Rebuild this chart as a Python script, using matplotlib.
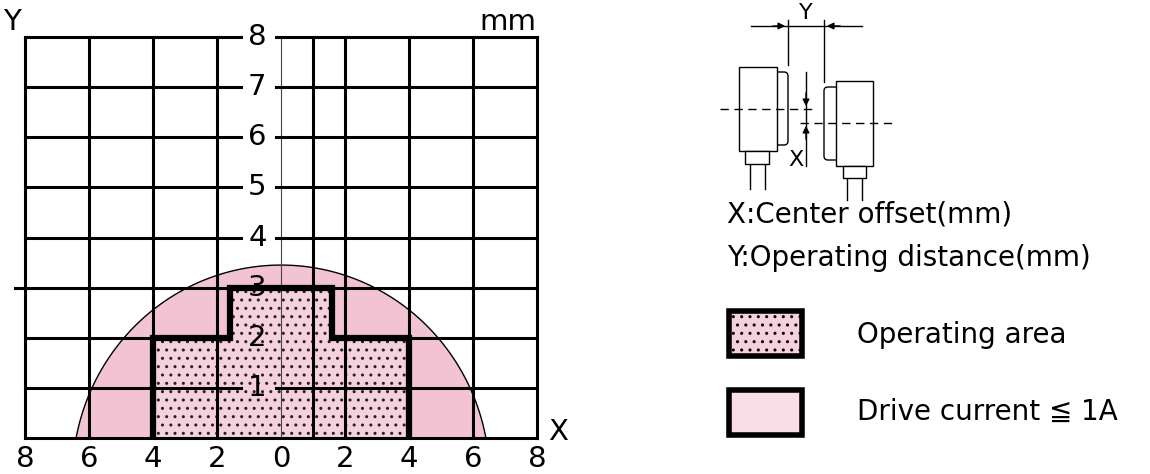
import matplotlib
matplotlib.use("Agg")
import matplotlib.pyplot as plt
from matplotlib.patches import Polygon, Ellipse, Rectangle, FancyBboxPatch
import numpy as np

x_ticks = [-8, -6, -4, -2, 0, 2, 4, 6, 8]
x_tick_labels = ["8", "6", "4", "2", "0", "2", "4", "6", "8"]
y_ticks = [1, 2, 3, 4, 5, 6, 7, 8]
grid_x = [-8, -6, -4, -2, 1, 2, 4, 6, 8]
op_x = [-4, -4, -1.6, -1.6, 1.6, 1.6, 4, 4]
op_y = [0, 2, 2, 3, 3, 2, 2, 0]
dome_center_y = -0.8
dome_half_width = 6.52
dome_half_height = 4.25

DOME = "#f2c3d3"
OPF = "#f5d0dd"
LIGHT = "#fbdde8"
FS = 21
TFS = 20
fam = ["DejaVu Sans", "Noto Sans CJK JP"]
plt.rcParams["hatch.linewidth"] = 1.0
plt.rcParams["hatch.color"] = "#222222"

fig = plt.figure(figsize=(11.5, 4.74), dpi=100)
ax = fig.add_axes([25/1150, 36/474, 512/1150, 401/474])
ax.set_xlim(-8, 8); ax.set_ylim(0, 8); ax.axis("off")

th = np.linspace(0, np.pi, 200)
ex = dome_half_width * np.cos(th)
ey = dome_center_y + dome_half_height * np.sin(th)
m = ey >= 0
ax.fill(ex[m], ey[m], facecolor=DOME, edgecolor="black", lw=1, zorder=1)

op = Polygon(list(zip(op_x, op_y)), closed=True, facecolor=OPF, edgecolor="#222222",
             lw=0, hatch="..", zorder=2)
ax.add_patch(op)

lw = 2.2
Z = 6
for gx in grid_x:
    ax.plot([gx, gx], [0, 8], color="black", lw=lw, zorder=Z, clip_on=False)
ax.plot([0, 0], [0, 8], color="#444444", lw=0.8, zorder=Z)
for gy in y_ticks + [0]:
    if gy == 0:
        ax.plot([-8, 8], [0, 0], color="black", lw=lw, zorder=Z, clip_on=False)
    elif gy == 3:
        ax.plot([-8.3, 8], [3, 3], color="black", lw=lw, zorder=Z, clip_on=False)
    elif gy == 2:
        ax.plot([-8, -1.6], [2, 2], color="black", lw=lw, zorder=Z)
        ax.plot([1.6, 8], [2, 2], color="black", lw=lw, zorder=Z)
    else:
        ax.plot([-8, -1.26], [gy, gy], color="black", lw=lw, zorder=Z, clip_on=False)
        ax.plot([-0.17, 8], [gy, gy], color="black", lw=lw, zorder=Z, clip_on=False)
    if gy > 0:
        ax.text(-0.74, gy, str(gy), fontsize=FS, ha="center", va="center", zorder=8)

ax.plot(op_x, op_y, color="black", lw=4.5, zorder=7, solid_joinstyle="miter")

for xv, lab in zip(x_ticks, x_tick_labels):
    ax.text(xv, -0.42, lab, fontsize=FS, ha="center", va="center", clip_on=False)
ax.text(-8.4, 8.3, "Y", fontsize=FS, ha="center", va="center")
ax.text(7.1, 8.3, "mm", fontsize=FS, ha="center", va="center")
ax.text(8.65, 0.12, "X", fontsize=FS, ha="center", va="center")

# overlay in pixel coords
ov = fig.add_axes([0, 0, 1, 1], zorder=-1)
ov.set_xlim(0, 1150); ov.set_ylim(474, 0); ov.axis("off")
k = dict(color="black", lw=1)

def rect(x0, y0, x1, y1):
    ov.add_patch(Rectangle((x0, y0), x1-x0, y1-y0, facecolor="white", edgecolor="black", lw=1, zorder=3))

ov.add_patch(FancyBboxPatch((771, 72), 17, 73, boxstyle="round,pad=0,rounding_size=4",
                            fill=False, edgecolor="black", lw=1, zorder=2))
rect(739, 67, 777, 151); rect(745, 151, 769, 164)
ov.plot([750, 750], [164, 189], **k); ov.plot([765, 765], [164, 189], **k)
ov.add_patch(FancyBboxPatch((824, 87), 17, 73, boxstyle="round,pad=0,rounding_size=4",
                            fill=False, edgecolor="black", lw=1, zorder=2))
rect(836, 81, 873, 166); rect(843, 166, 866, 178)
ov.plot([847, 847], [178, 200], **k); ov.plot([862, 862], [178, 200], **k)
ov.plot([788, 788], [20, 65], **k); ov.plot([824, 824], [20, 82], **k)
ov.plot([751, 862], [26, 26], **k)
ov.annotate("", xy=(788, 26), xytext=(770, 26), arrowprops=dict(arrowstyle="-|>", color="black", lw=1))
ov.annotate("", xy=(824, 26), xytext=(843, 26), arrowprops=dict(arrowstyle="-|>", color="black", lw=1))
ov.text(806, 13, "Y", fontsize=16, ha="center", va="center")
ov.plot([720, 813], [109, 109], color="black", lw=1, ls=(0, (6, 4)), zorder=4)
ov.plot([800, 893], [123, 123], color="black", lw=1, ls=(0, (6, 4)), zorder=4)
ov.plot([806, 806], [72, 166], **k)
ov.annotate("", xy=(806, 109), xytext=(806, 90), arrowprops=dict(arrowstyle="-|>", color="black", lw=1))
ov.annotate("", xy=(806, 123), xytext=(806, 142), arrowprops=dict(arrowstyle="-|>", color="black", lw=1))
ov.text(796, 160, "X", fontsize=16, ha="center", va="center")

ov.text(727, 215, "X:Center offset(mm)", fontsize=TFS, ha="left", va="center", family=fam)
ov.text(727, 258, "Y:Operating distance(mm)", fontsize=TFS, ha="left", va="center", family=fam)
ov.add_patch(Rectangle((729, 311), 73, 45, facecolor=OPF, edgecolor="black", lw=4, hatch=".."))
ov.add_patch(Rectangle((729, 390), 73, 45, facecolor=LIGHT, edgecolor="black", lw=4))
ov.text(857, 335, "Operating area", fontsize=TFS, ha="left", va="center", family=fam)
ov.text(857, 412, "Drive current \u2266 1A", fontsize=TFS, ha="left", va="center", family=fam)

fig.savefig("out.png", dpi=100)
